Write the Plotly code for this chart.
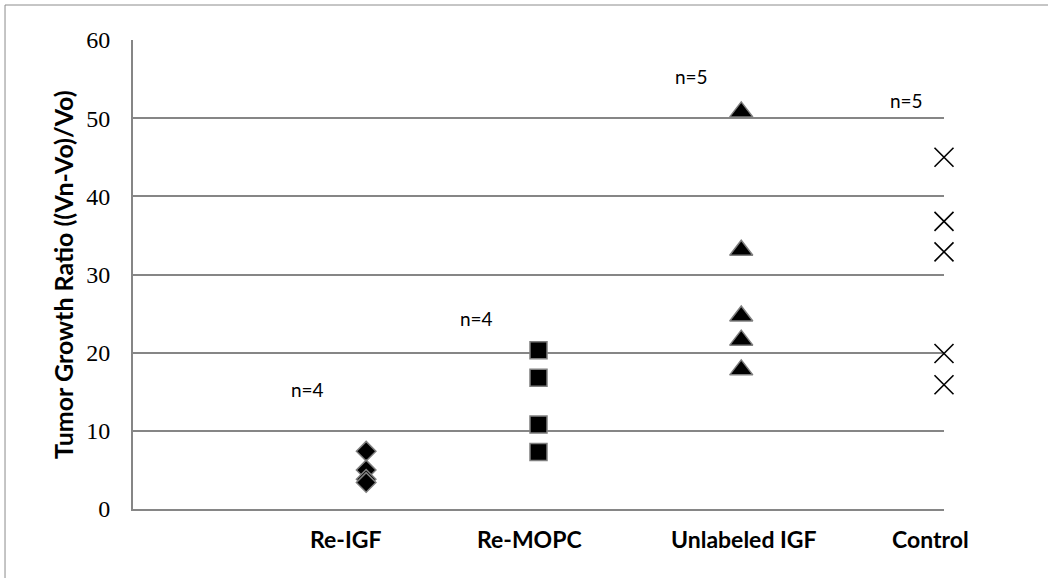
import plotly.graph_objects as go

# ---- data ----
categories = ["Re-IGF", "Re-MOPC", "Unlabeled IGF", "Control"]
group_x = [1.15, 2.0, 3.0, 4.0]          # horizontal position of each group on the 0-4 axis
re_igf = [7.4, 5.0, 3.8, 3.4]
re_mopc = [20.3, 16.8, 10.8, 7.3]
unlabeled_igf = [50.8, 33.1, 24.7, 21.6, 17.8]
control = [45.0, 36.8, 32.9, 19.9, 15.9]
n_labels = ["n=4", "n=4", "n=5", "n=5"]
y_ticks = [0, 10, 20, 30, 40, 50, 60]

GRID = "#868686"
OUTLINE = "#7f7f7f"
SANS = "Lato, 'Open Sans', sans-serif"

fig = go.Figure()

series = [
    (re_igf, group_x[0], "diamond", 15, dict(color="black", line=dict(color=OUTLINE, width=1.5))),
    (re_mopc, group_x[1], "square", 17, dict(color="black", line=dict(color=OUTLINE, width=1.5))),
    (unlabeled_igf, group_x[2], "triangle-up", 20, dict(color="black", line=dict(color=OUTLINE, width=1.5))),
    (control, group_x[3], "x-thin-open", 19, dict(color="black", line=dict(color="black", width=1.6))),
]
for vals, gx, sym, size, mk in series:
    fig.add_trace(go.Scatter(
        x=[gx] * len(vals), y=vals, mode="markers",
        marker=dict(symbol=sym, size=size, **mk),
        cliponaxis=False, showlegend=False, hoverinfo="y",
    ))

# category labels below the axis
cat_pos = [0.262, 0.489, 0.754, 0.983]
for c, px in zip(categories, cat_pos):
    fig.add_annotation(x=px, y=-0.065, xref="paper", yref="paper", text=c, showarrow=False,
                       xanchor="center", yanchor="middle",
                       font=dict(family=SANS, size=23, color="black", weight="bold"))

# n= labels
n_pos = [(0.2146, 15.35), (0.423, 24.4), (0.689, 55.3), (0.954, 52.2)]
for t, (px, py) in zip(n_labels, n_pos):
    fig.add_annotation(x=px, y=py, xref="paper", yref="y", text=t, showarrow=False,
                       xanchor="center", yanchor="middle",
                       font=dict(family=SANS, size=19, color="black"))

# y-axis title
fig.add_annotation(x=-0.0863, y=0.499, xref="paper", yref="paper", textangle=-90,
                   text="Tumor Growth Ratio ((Vn-Vo)/Vo)", showarrow=False,
                   xanchor="center", yanchor="middle",
                   font=dict(family=SANS, size=25, color="black", weight="bold"))

# outer chart border (top and left visible)
fig.add_shape(type="line", xref="paper", yref="paper", x0=-0.1578, x1=1.2, y0=1.0746, y1=1.0746,
              line=dict(color="#8c8c8c", width=1))
fig.add_shape(type="line", xref="paper", yref="paper", x0=-0.1578, x1=-0.1578, y0=-0.2, y1=1.0746,
              line=dict(color="#8c8c8c", width=1))

fig.update_layout(
    width=1048, height=578,
    margin=dict(l=133, r=104, t=40, b=69),
    paper_bgcolor="white", plot_bgcolor="white",
    xaxis=dict(range=[0, 4], showgrid=False, zeroline=False, showticklabels=False,
               showline=True, linecolor=GRID, linewidth=2, ticks=""),
    yaxis=dict(range=[0, 60], tickvals=y_ticks, showgrid=True, gridcolor=GRID, gridwidth=2,
               zeroline=False, showline=True, linecolor=GRID, linewidth=2, ticks="",
               ticklabelstandoff=16,
               tickfont=dict(family="Liberation Serif, Times New Roman, serif", size=24, color="black")),
)

fig.write_html("out.html", config={"displayModeBar": False},
               post_script="document.body.style.margin='0px';")
